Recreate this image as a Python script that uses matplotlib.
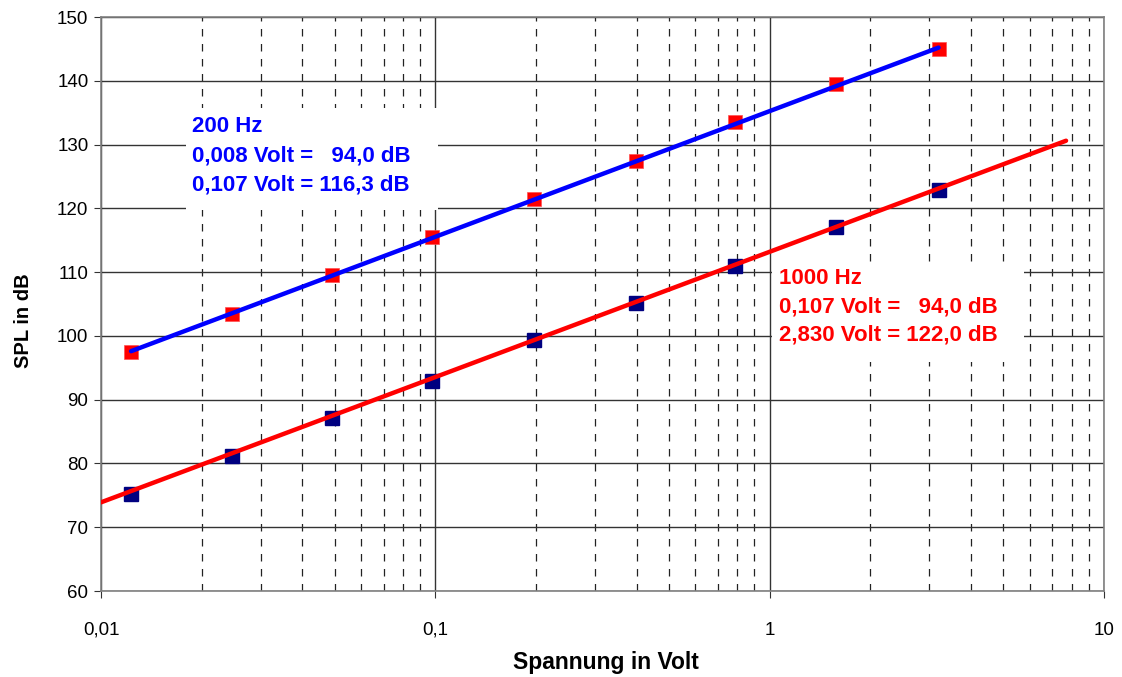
import matplotlib
matplotlib.use("Agg")
import matplotlib.pyplot as plt
from matplotlib.ticker import FixedLocator, LogLocator, NullFormatter
import matplotlib.patches as mpatches

plt.rcParams['font.family'] = ['Liberation Sans', 'DejaVu Sans']

# Data
volt = [0.0123, 0.0246, 0.049, 0.098, 0.197, 0.397, 0.79, 1.58, 3.2]
spl_200hz = [97.5, 103.5, 109.5, 115.5, 121.5, 127.5, 133.5, 139.5, 145.0]
spl_1000hz = [75.2, 81.1, 87.1, 93.0, 99.3, 105.1, 111.0, 117.0, 122.8]
trend_200_x = [0.0123, 3.2]
trend_200_y = [97.6, 145.2]
trend_1000_x = [0.01, 7.7]
trend_1000_y = [73.9, 130.6]
xtick_vals = [0.01, 0.1, 1, 10]
xtick_labels = ["0,01", "0,1", "1", "10"]
ytick_vals = [60, 70, 80, 90, 100, 110, 120, 130, 140, 150]
text_200 = ["200 Hz", "0,008 Volt =   94,0 dB", "0,107 Volt = 116,3 dB"]
text_1000 = ["1000 Hz", "0,107 Volt =   94,0 dB", "2,830 Volt = 122,0 dB"]

fig = plt.figure(figsize=(11.22, 6.77), dpi=100)
ax = fig.add_axes([101/1122, 1-591/677, (1104-101)/1122, (591-17)/677])
ax.set_xscale('log')
ax.set_xlim(0.01, 10)
ax.set_ylim(60, 150)

ax.xaxis.set_major_locator(FixedLocator(xtick_vals))
ax.set_xticklabels(xtick_labels)
ax.xaxis.set_minor_locator(LogLocator(base=10, subs=range(2, 10)))
ax.xaxis.set_minor_formatter(NullFormatter())
ax.yaxis.set_major_locator(FixedLocator(ytick_vals))

ax.grid(True, which='major', axis='both', color='#333333', linewidth=1.0, linestyle='-')
ax.grid(True, which='minor', axis='x', color='#222222', linewidth=0.9, linestyle=(0, (6, 6)))
ax.set_axisbelow(True)

for s in ax.spines.values():
    s.set_color('#808080')
    s.set_linewidth(1.2)

ax.tick_params(axis='both', which='major', labelsize=13.5, length=5, color='#333333', direction='out')
ax.tick_params(axis='x', which='minor', length=0)
ax.tick_params(axis='x', which='major', pad=17)
ax.tick_params(axis='y', which='major', pad=4)

# White text boxes (drawn over grid)
box1 = mpatches.Rectangle((186, 677-210), 252, 102, transform=None, facecolor='white', edgecolor='none', zorder=1.5)
box2 = mpatches.Rectangle((772, 677-362), 252, 98, transform=None, facecolor='white', edgecolor='none', zorder=1.5)
ax.add_artist(box1)
ax.add_artist(box2)

ax.plot(trend_200_x, trend_200_y, color='#0000ff', linewidth=3.2, zorder=4, solid_capstyle='round')
ax.plot(trend_1000_x, trend_1000_y, color='#ff0000', linewidth=3.2, zorder=4, solid_capstyle='round')
ax.plot(volt, spl_200hz, linestyle='none', marker='s', markersize=10.5, color='#ff0000',
        markeredgecolor='#ff5050', markeredgewidth=0.5, zorder=3)
ax.plot(volt, spl_1000hz, linestyle='none', marker='s', markersize=9.5, color='#000080',
        markeredgecolor='#000080', zorder=3)

for i, line in enumerate(text_200):
    fig.text(192/1122, 1-(127 + 29*i)/677, line, color='#0000ff', fontsize=16, fontweight='bold',
             va='center', ha='left')
for i, line in enumerate(text_1000):
    fig.text(779/1122, 1-(278 + 28.5*i)/677, line, color='#ff0000', fontsize=16, fontweight='bold',
             va='center', ha='left')

fig.text(606/1122, 1-662/677, "Spannung in Volt", fontsize=16.5, fontweight='bold',
         ha='center', va='center')
fig.text(24/1122, 1-321/677, "SPL in dB", fontsize=14.5, fontweight='bold',
         ha='center', va='center', rotation=90)

fig.savefig("out.png", dpi=100)
